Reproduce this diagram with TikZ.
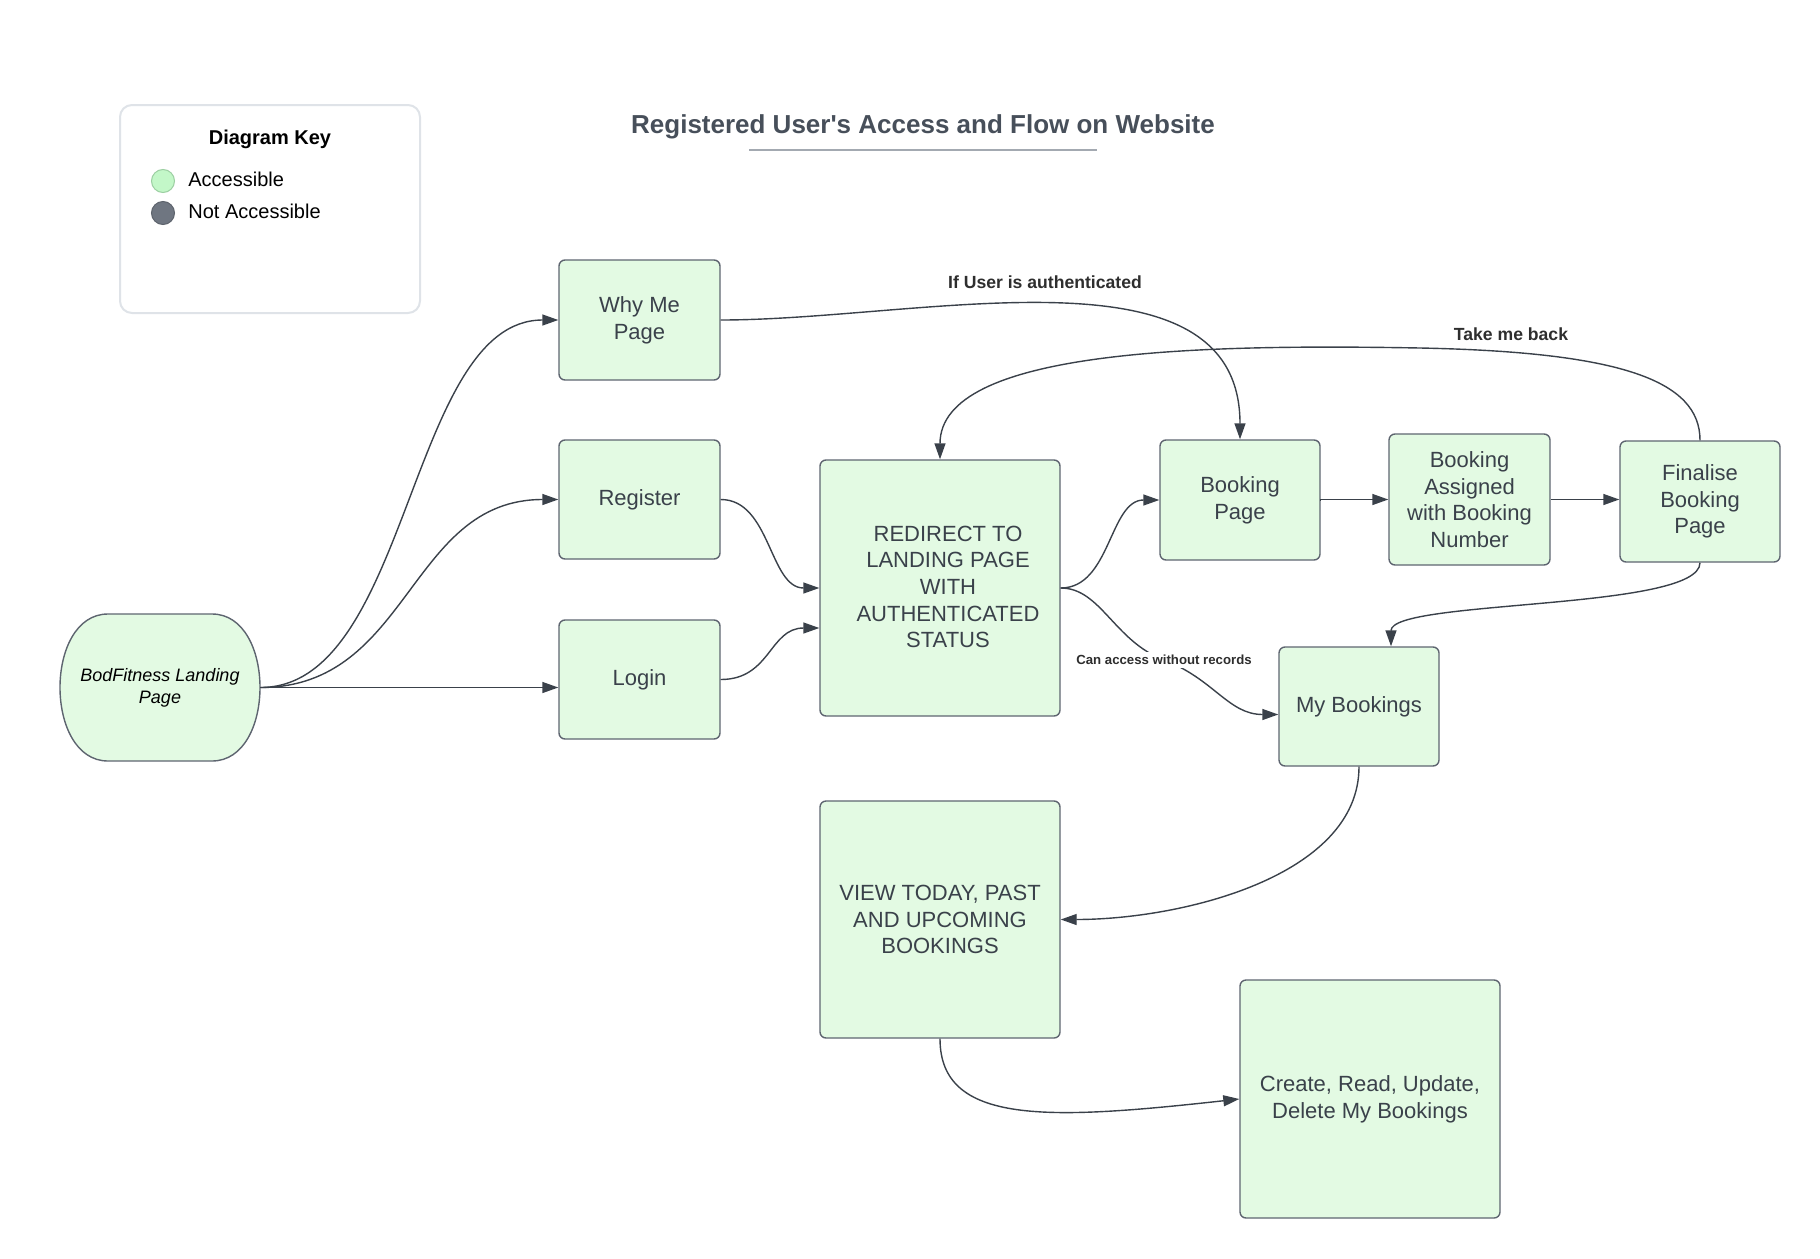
\documentclass[tikz,border=0pt]{standalone}
\usepackage{fontspec}
\setmainfont{Liberation Sans}[Ligatures=TeXOff]
\usetikzlibrary{arrows.meta}
\definecolor{nodefill}{HTML}{E3FAE3}
\definecolor{nodeline}{HTML}{5E6570}
\definecolor{ink}{HTML}{3A414A}
\definecolor{keyline}{HTML}{DFE3E8}
\definecolor{titlec}{HTML}{474F5A}
\definecolor{ulc}{HTML}{A3A9B1}
\definecolor{accg}{HTML}{C3F7C8}
\definecolor{accgl}{HTML}{9CCFA2}
\definecolor{nacc}{HTML}{6F7681}
\definecolor{naccl}{HTML}{5D636C}
\definecolor{labc}{HTML}{2E2E2E}
\begin{document}
\begin{tikzpicture}[x=0.5pt,y=-0.5pt,
  pagebox/.style={draw=nodeline, line width=0.7pt, fill=nodefill, rounded corners=3pt, align=center, text=ink, font=\fontsize{11}{13.35}\selectfont, inner sep=0pt},
  conn/.style={draw=ink, line width=0.7pt, -{Triangle[length=8pt,width=5.5pt]}},
  elabel/.style={font=\fontsize{8.8}{10}\selectfont\bfseries, text=labc, inner sep=1pt},
  slabel/.style={font=\fontsize{6.6}{8}\selectfont\bfseries, text=labc, fill=white, inner sep=1.5pt},
  keytext/.style={font=\fontsize{10}{12}\selectfont, text=black, anchor=west, inner sep=0pt}
]
\useasboundingbox (0,0) rectangle (1820,1258);

% key
\draw[keyline, line width=1pt, rounded corners=6pt, fill=white] (120,105) rectangle (420,313);
\node[font=\fontsize{10}{12}\selectfont\bfseries, text=black] (keyt) at (270,139) {Diagram Key};
\node[circle, draw=accgl, fill=accg, minimum size=11.5pt, inner sep=0pt, line width=0.5pt] (kg) at (163,181) {};
\node[circle, draw=naccl, fill=nacc, minimum size=11.5pt, inner sep=0pt, line width=0.5pt] (kn) at (163,213) {};
\node[keytext] (kgt) at (188,179) {Accessible};
\node[keytext] (knt) at (188,211) {Not Accessible};

% title
\node[font=\fontsize{13}{15}\selectfont\bfseries, text=titlec] (title) at (923,127) {Registered User's Access and Flow on Website};
\draw[ulc, line width=1pt] (749,150) -- (1097,150);

% landing
\draw[nodeline, fill=nodefill, line width=0.7pt] (108,614) -- (212,614) .. controls (276,614) and (276,761) .. (212,761) -- (108,761) .. controls (44,761) and (44,614) .. (108,614) -- cycle;
\node[minimum width=100pt, minimum height=73.5pt, inner sep=0pt, text=black, font=\fontsize{9}{11}\selectfont\itshape, align=center] (land) at (160,687.5) {BodFitness Landing\\Page};

% page nodes
\node[pagebox, minimum width=80.5pt, minimum height=60pt] (why) at (639.5,320) {Why Me\\Page};
\node[pagebox, minimum width=80.5pt, minimum height=59.5pt] (reg) at (639.5,499.5) {Register};
\node[pagebox, minimum width=80.5pt, minimum height=59.5pt] (login) at (639.5,679.5) {Login};
\node[pagebox, minimum width=120pt, minimum height=128pt] (redirect) at (940,588) {};
\node[align=center, text=ink, font=\fontsize{11}{13.35}\selectfont, inner sep=0pt] (redirtext) at (948,587) {REDIRECT TO\\LANDING PAGE\\WITH\\AUTHENTICATED\\STATUS};
\node[pagebox, minimum width=80pt, minimum height=60pt] (booking) at (1240,500) {Booking\\Page};
\node[pagebox, minimum width=80.5pt, minimum height=65.5pt] (assigned) at (1469.5,499.5) {Booking\\Assigned\\with Booking\\Number};
\node[pagebox, minimum width=80pt, minimum height=60.5pt] (finalise) at (1700,501.5) {Finalise\\Booking\\Page};
\node[pagebox, minimum width=80pt, minimum height=59.5pt] (mybook) at (1359,706.5) {My Bookings};
\node[pagebox, minimum width=120pt, minimum height=118.5pt] (view) at (940,919.5) {VIEW TODAY, PAST\\AND UPCOMING\\BOOKINGS};
\node[pagebox, minimum width=130pt, minimum height=119pt] (crud) at (1370,1099) {Create, Read, Update,\\Delete My Bookings};

% connectors
\draw[conn] (land.east) .. controls +(150,0) and +(-150,0) .. (why.west);
\draw[conn] (land.east) .. controls +(150,0) and +(-150,0) .. (reg.west);
\draw[conn] (land.east) -- (land.east -| login.west);
\draw[conn] (why.east) .. controls +(200,0) and +(0,-200) .. (booking.north);
\node[elabel] (lab1) at (1045,282) {If User is authenticated};
\draw[conn] (reg.east) .. controls +(50,0) and +(-50,0) .. (redirect.west);
\draw[conn] (login.east) .. controls +(50,0) and +(-50,0) .. ([yshift=-20pt]redirect.west);
\draw[conn] (redirect.east) .. controls +(50,0) and +(-50,0) .. (booking.west);
\coordinate (cmid) at (1164,660);
\draw[conn] (redirect.east) .. controls +(40,0) and +(-50,-19) .. (cmid) .. controls +(50,19) and +(-50,0) .. ([yshift=-4pt]mybook.west);
\node[slabel] (lab3) at (cmid) {Can access without records};
\draw[conn] (booking.east) -- (assigned.west -| booking.east) -- (assigned.west);
\draw[conn] (assigned.east) -- (assigned.east -| finalise.west);
\draw[conn] (finalise.north) .. controls +(0,-60) and +(200,4) .. (1420,348) .. controls +(-220,-4) and +(0,-110) .. (redirect.north);
\node[elabel] (lab2) at (1511,334) {Take me back};
\draw[conn] (finalise.south) .. controls +(0,48) and +(0,-47) .. ([xshift=16pt]mybook.north);
\draw[conn] (mybook.south) .. controls +(0,110) and +(120,0) .. (view.east);
\draw[conn] (view.south) .. controls +(0,87) and +(-190,21) .. (crud.west);
\end{tikzpicture}
\end{document}
